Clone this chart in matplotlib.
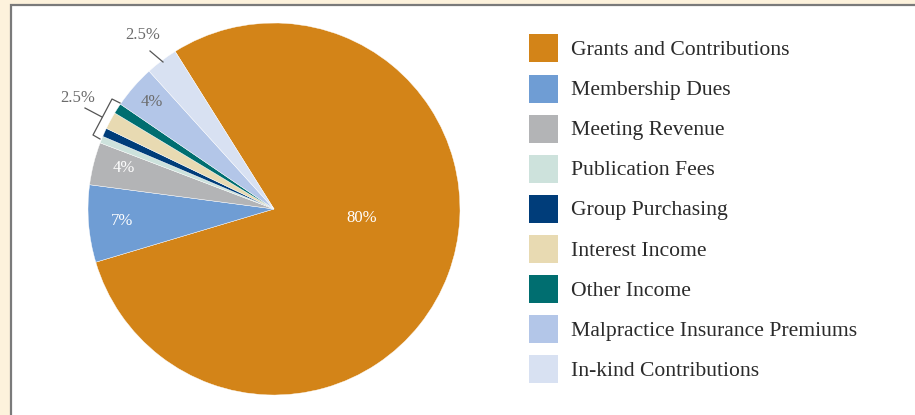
import matplotlib
matplotlib.use("Agg")
import matplotlib.pyplot as plt
from matplotlib.patches import Rectangle
import numpy as np

categories = ["Grants and Contributions", "Membership Dues", "Meeting Revenue",
              "Publication Fees", "Group Purchasing", "Interest Income",
              "Other Income", "Malpractice Insurance Premiums", "In-kind Contributions"]
values = [79.3, 6.7, 3.7, 0.6, 0.75, 1.5, 0.9, 3.75, 2.8]
colors = ["#D38418", "#6F9DD4", "#B3B4B6", "#CDE2DC", "#003D7A",
          "#E8DAB2", "#006E70", "#B3C6E8", "#D8E1F2"]
pct_labels = ["80%", "7%", "4%", "4%", "2.5%", "2.5%"]

W, H = 915, 415
fig = plt.figure(figsize=(W / 100, H / 100), dpi=100)
fig.patch.set_facecolor("#FDF2DC")
ax = fig.add_axes([0, 0, 1, 1])

def Y(py):
    return H - py

# white panel with grey border
ax.add_patch(Rectangle((11, -20), W + 20, Y(5.5) + 20, facecolor="white",
                       edgecolor="#7a7a7a", linewidth=1.6, zorder=0))

cx, cy, R = 274, Y(209), 186
wedges, _ = ax.pie(values, colors=colors, startangle=122.1, counterclock=False,
                   center=(cx, cy), radius=R, frame=True,
                   wedgeprops=dict(edgecolor="white", linewidth=0.3))
ax.set_xlim(0, W)
ax.set_ylim(0, H)
ax.set_aspect("equal")
ax.axis("off")

serif = ["Liberation Serif", "DejaVu Serif"]
fs = 12

# inside labels
ax.text(362, Y(218), pct_labels[0], color="white", fontsize=fs, family=serif, ha="center", va="center")
ax.text(122, Y(221), pct_labels[1], color="white", fontsize=fs, family=serif, ha="center", va="center")
ax.text(124, Y(168), pct_labels[2], color="white", fontsize=fs, family=serif, ha="center", va="center")
ax.text(152, Y(102), pct_labels[3], color="#6b6b6b", fontsize=fs, family=serif, ha="center", va="center")

# outside labels
lab_col = "#6b6b6b"
ax.text(143, Y(35), pct_labels[5], color=lab_col, fontsize=fs, family=serif, ha="center", va="center")
ax.plot([150, 163], [Y(51), Y(62)], color="#555555", lw=0.9)
ax.text(78, Y(98), pct_labels[4], color=lab_col, fontsize=fs, family=serif, ha="center", va="center")
ax.plot([85, 102], [Y(108), Y(117)], color="#555555", lw=0.9)
ax.plot([120, 112, 93, 100], [Y(103), Y(99), Y(135), Y(139)], color="#555555", lw=0.9)

# legend
for i, (name, col) in enumerate(zip(categories, colors)):
    yc = 48.5 + 40.1 * i
    ax.add_patch(Rectangle((529, Y(yc) - 14), 29, 28, facecolor=col, edgecolor="none"))
    ax.text(571, Y(yc + 6.5), name, color="#2b2b2b", fontsize=15.6, family=serif,
            ha="left", va="baseline")

fig.savefig("out.png", dpi=100, facecolor=fig.get_facecolor())
